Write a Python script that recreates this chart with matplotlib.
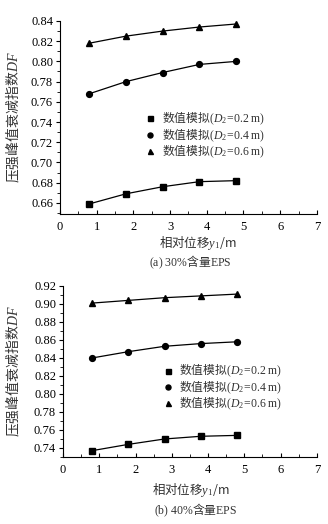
import numpy as np
import matplotlib
matplotlib.use("Agg")
import matplotlib.pyplot as plt
from matplotlib.ticker import MultipleLocator, FormatStrFormatter

plt.rcParams["font.family"] = ["Liberation Serif", "Noto Sans CJK SC"]
plt.rcParams["mathtext.fontset"] = "custom"
plt.rcParams["mathtext.rm"] = "Liberation Serif"
plt.rcParams["mathtext.it"] = "Liberation Serif:italic"
plt.rcParams["mathtext.bf"] = "Liberation Serif:bold"

# data
y1 = [0.8, 1.8, 2.8, 3.8, 4.8]
a_d02 = [0.659, 0.669, 0.676, 0.681, 0.682]
a_d04 = [0.768, 0.780, 0.789, 0.797, 0.800]
a_d06 = [0.818, 0.825, 0.830, 0.834, 0.837]
b_d02 = [0.737, 0.744, 0.750, 0.753, 0.754]
b_d04 = [0.840, 0.847, 0.853, 0.856, 0.858]
b_d06 = [0.901, 0.904, 0.907, 0.909, 0.911]
d2_labels = ["0.2", "0.4", "0.6"]
markers = ["s", "o", "^"]
captions = [r"$\mathrm{(a)\ 30\%}$含量$\mathrm{EPS}$", r"$\mathrm{(b)\ 40\%}$含量$\mathrm{EPS}$"]

CJK = "Noto Sans CJK SC"
fs = 8.5
txt_color = "#333333"

fig = plt.figure(figsize=(3.28, 5.24), dpi=100)
ax_a = fig.add_axes([0.183, 0.5916, 0.783, 0.3684])
ax_b = fig.add_axes([0.192, 0.1279, 0.774, 0.3263])

panels = [
    (ax_a, [a_d02, a_d04, a_d06], (0.649, 0.84)),
    (ax_b, [b_d02, b_d04, b_d06], (0.73, 0.92)),
]

for i, (ax, series, ylim) in enumerate(panels):
    for vals, mk, d in zip(series, markers, d2_labels):
        ax.plot(y1, vals, color="black", lw=0.9, marker=mk, ms=4.2,
                label=r"数值模拟$(D_2\!\mathrm{=}\!\mathrm{%s\ m)}$" % d)
    ax.set_xlim(0, 7)
    ax.set_ylim(*ylim)
    ax.xaxis.set_major_locator(MultipleLocator(1))
    ax.xaxis.set_minor_locator(MultipleLocator(0.5))
    ax.yaxis.set_major_locator(MultipleLocator(0.02))
    ax.yaxis.set_minor_locator(MultipleLocator(0.01))
    ax.yaxis.set_major_formatter(FormatStrFormatter("%.2f"))
    for s in ["top", "right"]:
        ax.spines[s].set_visible(False)
    ax.tick_params(axis="x", which="both", direction="in", labelsize=fs + 0.5, pad=5)
    ax.tick_params(axis="y", which="both", direction="out", labelsize=fs + 0.5, pad=2)
    ax.tick_params(which="major", length=3, width=0.8)
    ax.tick_params(which="minor", length=2, width=0.6)
    for sp in ax.spines.values():
        sp.set_linewidth(0.8)

    ax.set_ylabel(r"压强峰值衰减指数$DF$", fontsize=fs + 1.5, family=CJK, color=txt_color)
    ax.set_xlabel(r"相对位移$y_1$/m", fontsize=fs + 0.5, family=CJK, color=txt_color)

    leg = ax.legend(loc="center left", frameon=False,
                    handlelength=1.0, handletextpad=0.5, labelspacing=-0.1,
                    borderaxespad=0, prop={"family": CJK, "size": fs})
    for line in leg.get_lines():
        line.set_linestyle("none")
        line.set_markersize(3.6)
    for t in leg.get_texts():
        t.set_color(txt_color)
    if i == 0:
        leg.set_bbox_to_anchor((0.31, 0.41), transform=ax.transAxes)
    else:
        leg.set_bbox_to_anchor((0.37, 0.41), transform=ax.transAxes)

ax_a.yaxis.set_label_coords(-0.15, 0.5)
ax_b.yaxis.set_label_coords(-0.163, 0.5)
ax_a.xaxis.set_label_coords(0.535, -0.105)
ax_b.xaxis.set_label_coords(0.505, -0.14)

fig.text(0.58, 1 - 262 / 524, captions[0], ha="center", va="center",
         fontsize=fs, family=CJK, color=txt_color)
fig.text(0.595, 1 - 510 / 524, captions[1], ha="center", va="center",
         fontsize=fs, family=CJK, color=txt_color)

fig.savefig("out.png", dpi=100)
